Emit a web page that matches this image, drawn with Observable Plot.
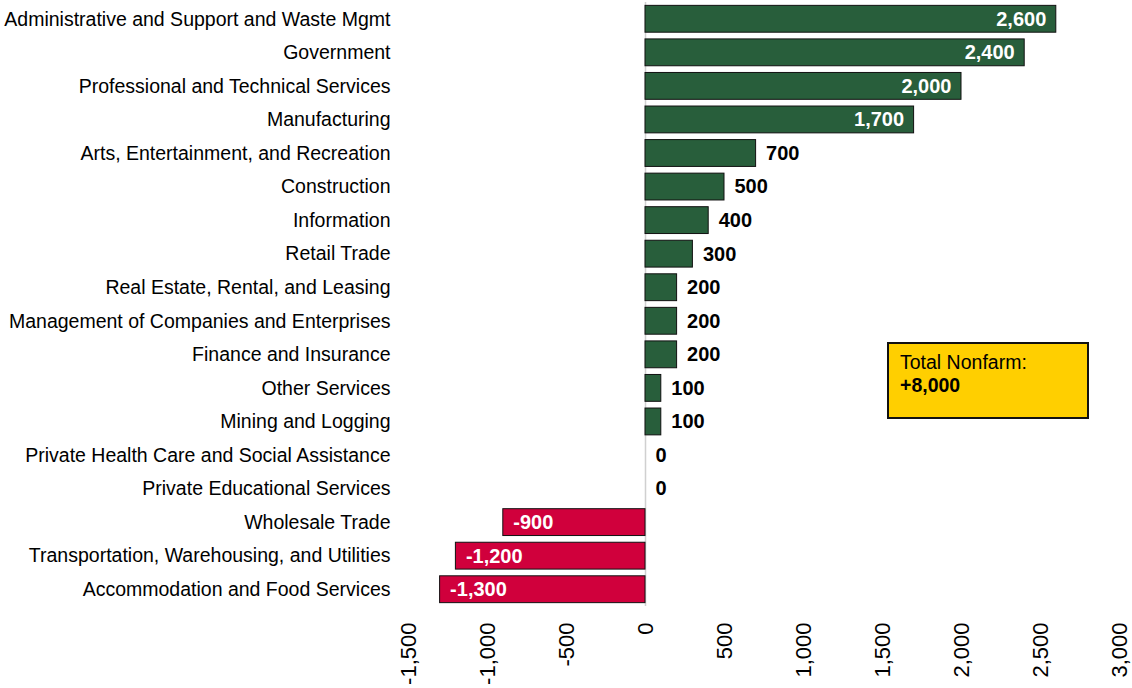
<!DOCTYPE html>
<html>
<head>
<meta charset="utf-8">
<script src="https://cdn.jsdelivr.net/npm/d3@7"></script>
<script src="https://cdn.jsdelivr.net/npm/@observablehq/plot@0.6"></script>
<style>
  html, body { margin: 0; padding: 0; background: #fff; }
  #wrap { position: relative; width: 1132px; height: 688px; overflow: hidden; font-family: "Liberation Sans", Arial, sans-serif; }
  #box { position: absolute; left: 887px; top: 342px; width: 202px; height: 77px; background: #FFCF00; border: 2px solid #111;
         font-size: 19.5px; color: #000; padding: 7px 0 0 11px; box-sizing: border-box; line-height: 23px; }
  #box b { font-weight: bold; }
</style>
</head>
<body>
<div id="wrap"><div id="box">Total Nonfarm:<br><b>+8,000</b></div></div>
<script>
const industries = [
  "Administrative and Support and Waste Mgmt",
  "Government",
  "Professional and Technical Services",
  "Manufacturing",
  "Arts, Entertainment, and Recreation",
  "Construction",
  "Information",
  "Retail Trade",
  "Real Estate, Rental, and Leasing",
  "Management of Companies and Enterprises",
  "Finance and Insurance",
  "Other Services",
  "Mining and Logging",
  "Private Health Care and Social Assistance",
  "Private Educational Services",
  "Wholesale Trade",
  "Transportation, Warehousing, and Utilities",
  "Accommodation and Food Services"
];
const changes = [2600, 2400, 2000, 1700, 700, 500, 400, 300, 200, 200, 200, 100, 100, 0, 0, -900, -1200, -1300];
const xTicks = [-1500, -1000, -500, 0, 500, 1000, 1500, 2000, 2500, 3000];
const totalNonfarm = "+8,000";

const data = industries.map((name, i) => ({name, value: changes[i]}));
const fmt = d => (d < 0 ? "-" : "") + d3.format(",")(Math.abs(d));
const GREEN = "#285E3B", RED = "#D0003C";

const chart = Plot.plot({
  width: 1132,
  height: 688,
  marginLeft: 408,
  marginRight: 13,
  marginTop: 2,
  marginBottom: 82,
  style: {fontFamily: "'Liberation Sans', Arial, sans-serif", color: "#000", background: "transparent"},
  x: {domain: [-1500, 3000]},
  y: {domain: industries, paddingInner: 0.2, paddingOuter: 0.1, round: false},
  marks: [
    Plot.ruleX([0], {stroke: "#d0d0d0", strokeWidth: 1.5}),
    Plot.barX(data, {y: "name", x: "value", fill: d => d.value < 0 ? RED : GREEN, stroke: "#111", strokeWidth: 1}),
    Plot.text(data.filter(d => d.value >= 1000), {y: "name", x: "value", text: d => fmt(d.value), textAnchor: "end", dx: -10, fill: "white", fontWeight: "bold", fontSize: 20}),
    Plot.text(data.filter(d => d.value >= 0 && d.value < 1000), {y: "name", x: "value", text: d => fmt(d.value), textAnchor: "start", dx: 10, fill: "black", fontWeight: "bold", fontSize: 20}),
    Plot.text(data.filter(d => d.value < 0), {y: "name", x: "value", text: d => fmt(d.value), textAnchor: "start", dx: 10, fill: "white", fontWeight: "bold", fontSize: 20}),
    Plot.axisY({tickSize: 0, tickPadding: 18, fontSize: 19.5, label: null}),
    Plot.axisX({anchor: "bottom", ticks: xTicks, tickFormat: fmt, tickRotate: -90, tickSize: 0, tickPadding: 16, fontSize: 22, label: null})
  ]
});
document.getElementById("wrap").insertBefore(chart, document.getElementById("box"));
</script>
</body>
</html>
